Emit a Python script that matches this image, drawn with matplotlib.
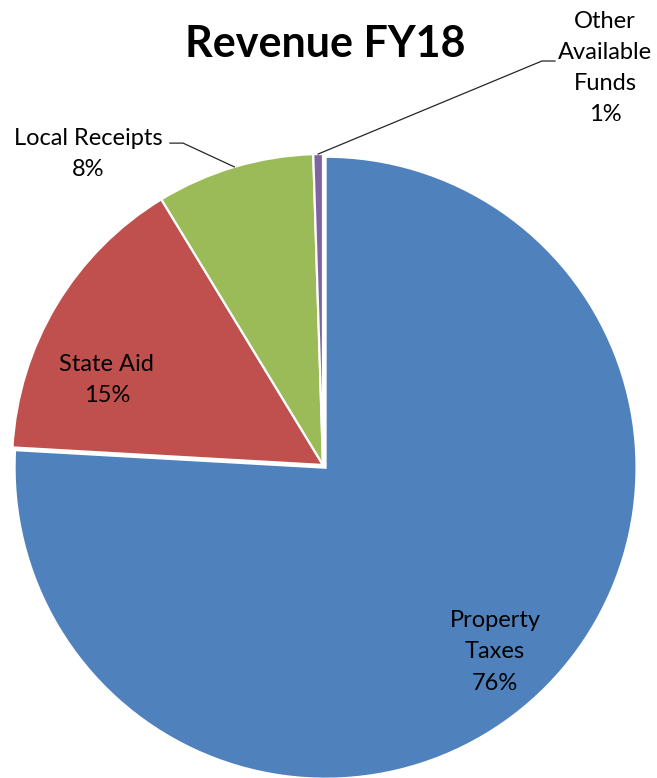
import math
import matplotlib
matplotlib.use("Agg")
import matplotlib.pyplot as plt

# Revenue sources, FY18 (percent of total)
categories = ["Property\nTaxes", "State Aid", "Local Receipts", "Other\nAvailable\nFunds"]
shares = [75.9, 15.4, 8.2, 0.5]
colors = ["#4F81BD", "#C0504D", "#9BBB59", "#8064A2"]
title = "Revenue FY18"

W, H = 657, 778
DPI = 100
fig = plt.figure(figsize=(W / DPI, H / DPI), dpi=DPI)
fig.patch.set_facecolor("white")

# pie centre and radius in pixels
cx, cy, r = 323, 465, 311
ax = fig.add_axes([(cx - r) / W, (H - cy - r) / H, 2 * r / W, 2 * r / H])

wedges, _ = ax.pie(
    shares,
    colors=colors,
    startangle=90,
    counterclock=False,
    radius=1.0,
    explode=[0.012, 0, 0, 0],
    wedgeprops=dict(edgecolor="white", linewidth=1.6),
)
ax.set_xlim(-1, 1)
ax.set_ylim(-1, 1)
ax.set_aspect("auto")
ax.axis("off")
for w in wedges:
    w.set_clip_on(False)

total = sum(shares)
pct = [math.floor(v / total * 100 + 0.5) for v in shares]
labels = [f"{c}\n{p}%" for c, p in zip(categories, pct)]

font = "Lato"
fs = 17
ls = 1.6

# label positions (data units, centre of text block)
label_pos = [(0.553, -0.601), (-0.695, 0.273), (-0.756, 1.0), (0.907, 1.277)]
for lab, (x, y) in zip(labels, label_pos):
    ax.text(x, y, lab, ha="center", va="center", fontsize=fs, family=font,
            linespacing=ls, color="black", clip_on=False)

# leader lines for the two outside labels
def mid_point(w, rad=1.0):
    a = math.radians((w.theta1 + w.theta2) / 2)
    return rad * math.cos(a), rad * math.sin(a)

ax_, ay_ = mid_point(wedges[2])
ax.plot([-0.492, -0.450, ax_], [1.035, 1.035, ay_], color="#262626", lw=0.9,
        clip_on=False)
ox, oy = mid_point(wedges[3])
ax.plot([ox, 0.704, 0.746], [oy, 1.299, 1.299], color="#262626", lw=0.9,
        clip_on=False)

fig.text(325 / W, 1 - 44 / H, title, ha="center", va="center", fontsize=31,
         fontweight="bold", family=font, color="black")

fig.savefig("out.png", dpi=DPI, facecolor="white")
